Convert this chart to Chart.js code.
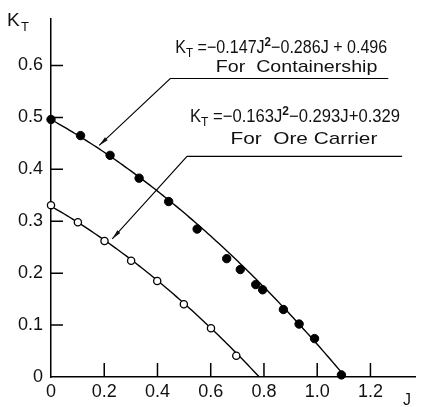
<!DOCTYPE html>
<html>
<head>
<meta charset="utf-8">
<script src="https://cdn.jsdelivr.net/npm/chart.js@4.4.1/dist/chart.umd.min.js"></script>
<style>
  html, body { margin: 0; padding: 0; background: #fff; }
  #wrap { width: 421px; height: 407px; }
</style>
</head>
<body>
<div id="wrap"><canvas id="ktChart" width="421" height="407"></canvas></div>
<script>
// measured points, advance coefficient J vs thrust coefficient KT
var containerJ  = [0, 0.111, 0.222, 0.331, 0.442, 0.549, 0.660, 0.711, 0.769, 0.795, 0.873, 0.932, 0.990, 1.091];
var containerKT = [0.496, 0.465, 0.427, 0.383, 0.338, 0.285, 0.228, 0.207, 0.178, 0.168, 0.130, 0.102, 0.074, 0.004];
var oreJ  = [0, 0.101, 0.201, 0.301, 0.399, 0.499, 0.601, 0.696];
var oreKT = [0.331, 0.298, 0.262, 0.224, 0.185, 0.140, 0.094, 0.041];

// fitted curves KT = a*J^2 + b*J + c
var containerFit = [-0.147, -0.286, 0.496];
var oreFit = [-0.163, -0.293, 0.329];

var xTicks = [0, 0.2, 0.4, 0.6, 0.8, 1.0, 1.2];
var yTicks = [0, 0.1, 0.2, 0.3, 0.4, 0.5, 0.6];

var FONT = '"Liberation Sans", Arial, sans-serif';

function pts(xs, ys) {
    return xs.map(function(x, i) { return { x: x, y: ys[i] }; });
}

// sample a fit from J = 0 to where it meets KT = 0
function fitCurve(k) {
    var a = k[0], b = k[1], c = k[2];
    var root = (-b - Math.sqrt(b * b - 4 * a * c)) / (2 * a);
    var out = [];
    for (var j = 0; j < root; j += 0.01) out.push({ x: j, y: a * j * j + b * j + c });
    out.push({ x: root, y: 0 });
    return out;
}

// leader lines and equation labels, in data units
var notes = [
    { leader: [[0.181, 0.446], [0.448, 0.575], [1.267, 0.575]],
      eq: { x0: 0.467, x1: 1.263, y: 0.625, parts: [['K'], ['T', 'sub'], [' =\u22120.147J'], ['2', 'sup'], ['\u22120.286J + 0.496']] },
      label: { x0: 0.619, x1: 1.226, y: 0.588, text: 'For  Containership' } },
    { leader: [[0.230, 0.266], [0.511, 0.425], [1.319, 0.425]],
      eq: { x0: 0.522, x1: 1.311, y: 0.491, parts: [['K'], ['T', 'sub'], [' =\u22120.163J'], ['2', 'sup'], ['\u22120.293J+0.329']] },
      label: { x0: 0.674, x1: 1.226, y: 0.449, text: 'For  Ore Carrier' } }
];

// draws a run of text pieces squeezed to a given width
function drawParts(ctx, parts, left, right, base, size) {
    var big = size + 'px ' + FONT, small = Math.round(size * 0.72) + 'px ' + FONT;
    var w = 0;
    parts.forEach(function(p) {
        ctx.font = p[1] ? small : big;
        w += ctx.measureText(p[0]).width;
    });
    ctx.save();
    ctx.translate(left, base);
    ctx.scale((right - left) / w, 1);
    var x = 0;
    parts.forEach(function(p) {
        ctx.font = p[1] ? (p[1] === 'sup' ? 'bold ' : '') + small : big;
        var dy = p[1] === 'sub' ? 4 : (p[1] === 'sup' ? -7 : 0);
        ctx.fillText(p[0], x, dy);
        x += ctx.measureText(p[0]).width;
    });
    ctx.restore();
}

var extras = {
    id: 'extras',
    afterDraw: function(chart) {
        var ctx = chart.ctx, xs = chart.scales.x, ys = chart.scales.y;
        var area = chart.chartArea;
        ctx.save();
        ctx.strokeStyle = '#000';
        ctx.fillStyle = '#111';

        // inward tick marks
        ctx.lineWidth = 1.5;
        ctx.beginPath();
        xTicks.forEach(function(v) {
            if (v === 0) return;
            var px = xs.getPixelForValue(v);
            ctx.moveTo(px, area.bottom);
            ctx.lineTo(px, area.bottom - 14);
        });
        yTicks.forEach(function(v) {
            if (v === 0) return;
            var py = ys.getPixelForValue(v);
            ctx.moveTo(area.left, py);
            ctx.lineTo(area.left + 12, py);
        });
        ctx.stroke();

        // axis titles
        ctx.textAlign = 'left';
        ctx.textBaseline = 'alphabetic';
        ctx.font = '19px ' + FONT;
        ctx.fillText('K', 7, 26);
        ctx.font = '13px ' + FONT;
        ctx.fillText('T', 21, 31);
        ctx.font = '16px ' + FONT;
        ctx.fillText('J', 403, 405);

        notes.forEach(function(n) {
            // leader with arrow
            var p = n.leader.map(function(q) { return [xs.getPixelForValue(q[0]), ys.getPixelForValue(q[1])]; });
            ctx.lineWidth = 1.1;
            ctx.beginPath();
            ctx.moveTo(p[0][0], p[0][1]);
            for (var i = 1; i < p.length; i++) ctx.lineTo(p[i][0], p[i][1]);
            ctx.stroke();
            var ang = Math.atan2(p[1][1] - p[0][1], p[1][0] - p[0][0]);
            ctx.beginPath();
            ctx.moveTo(p[0][0], p[0][1]);
            ctx.lineTo(p[0][0] + 10 * Math.cos(ang + 0.2), p[0][1] + 10 * Math.sin(ang + 0.2));
            ctx.lineTo(p[0][0] + 10 * Math.cos(ang - 0.2), p[0][1] + 10 * Math.sin(ang - 0.2));
            ctx.closePath();
            ctx.fill();

            drawParts(ctx, n.eq.parts, xs.getPixelForValue(n.eq.x0), xs.getPixelForValue(n.eq.x1), ys.getPixelForValue(n.eq.y), 18);
            drawParts(ctx, [[n.label.text]], xs.getPixelForValue(n.label.x0), xs.getPixelForValue(n.label.x1), ys.getPixelForValue(n.label.y), 17);
        });
        ctx.restore();
    }
};

var config = {
    type: 'scatter',
    data: {
        datasets: [
            { data: fitCurve(containerFit), showLine: true, borderColor: '#000', borderWidth: 1.4, pointRadius: 0, clip: false, order: 3 },
            { data: fitCurve(oreFit), showLine: true, borderColor: '#000', borderWidth: 1.4, pointRadius: 0, clip: false, order: 4 },
            { data: pts(containerJ, containerKT), pointRadius: 4.2, pointBackgroundColor: '#000', pointBorderColor: '#000', pointBorderWidth: 1, clip: false, order: 1 },
            { data: pts(oreJ, oreKT), pointRadius: 3.6, pointBackgroundColor: '#fff', pointBorderColor: '#000', pointBorderWidth: 1.3, clip: false, order: 2 }
        ]
    },
    options: {
        responsive: false,
        animation: false,
        layout: { padding: { top: 8, right: 1, left: 0, bottom: 0 } },
        plugins: { legend: { display: false }, tooltip: { enabled: false } },
        scales: {
            x: {
                type: 'linear', min: 0, max: 1.37,
                afterFit: function(s) { s.height = 30; },
                afterBuildTicks: function(s) { s.ticks = xTicks.map(function(v) { return { value: v }; }); },
                border: { color: '#000', width: 1.5 },
                grid: { display: false, drawTicks: false },
                ticks: {
                    padding: 4, color: '#111',
                    font: { family: FONT, size: 18 },
                    callback: function(v) { return v === 0 ? '0' : v.toFixed(1); }
                }
            },
            y: {
                type: 'linear', min: 0, max: 0.69,
                afterFit: function(s) { s.width = 51; },
                afterBuildTicks: function(s) { s.ticks = yTicks.map(function(v) { return { value: v }; }); },
                border: { color: '#000', width: 1.5 },
                grid: { display: false, drawTicks: false },
                ticks: {
                    padding: 8, color: '#111',
                    font: { family: FONT, size: 18 },
                    callback: function(v) { return v === 0 ? '0' : v.toFixed(1); }
                }
            }
        }
    },
    plugins: [extras]
};

new Chart(document.getElementById('ktChart').getContext('2d'), config);
</script>
</body>
</html>
